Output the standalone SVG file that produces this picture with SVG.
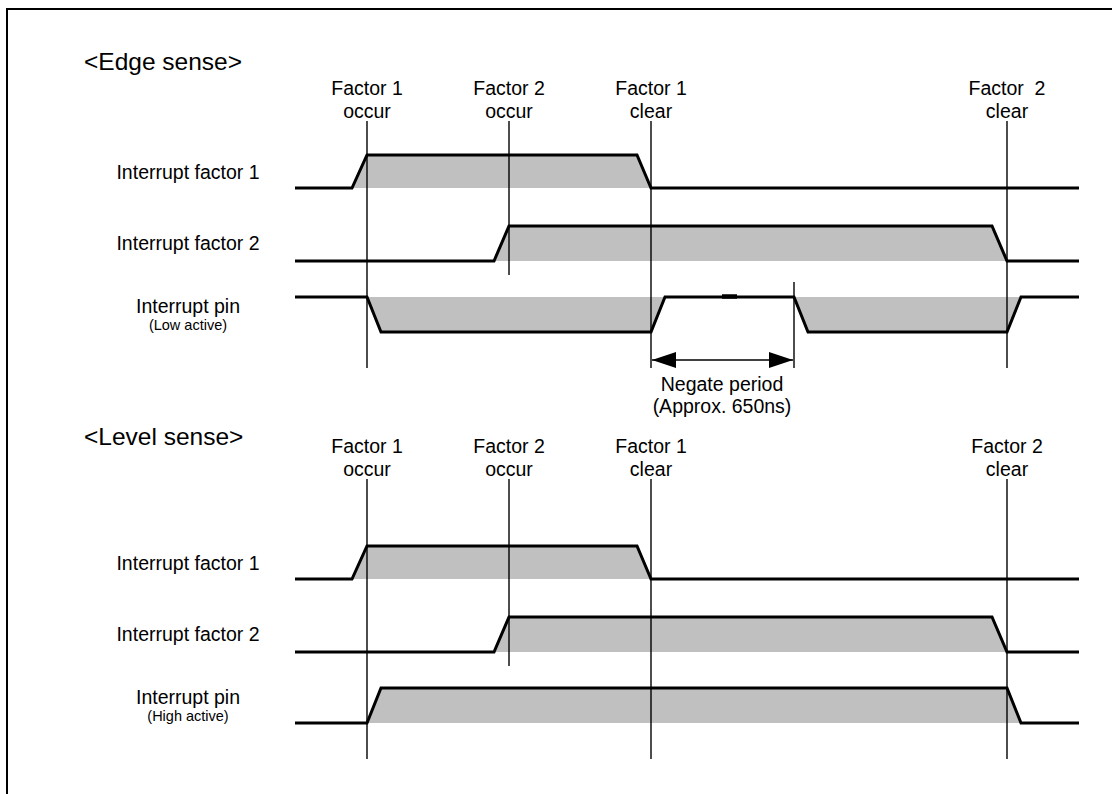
<svg xmlns="http://www.w3.org/2000/svg" width="1112" height="794" viewBox="0 0 1112 794">
<style>
text{font-family:"Liberation Sans",Arial,sans-serif;fill:#000}
.h{font-size:24.5px}
.l{font-size:19.5px;text-anchor:middle;white-space:pre}
.s{font-size:14.5px;text-anchor:middle}
.w{fill:none;stroke:#000;stroke-width:3;stroke-linejoin:miter}
.g{fill:#c0c0c0;stroke:none}
.v{stroke:#000;stroke-width:1.4}
</style>
<defs>
<marker id="ah" markerWidth="24" markerHeight="16" refX="24" refY="8" orient="auto-start-reverse" markerUnits="userSpaceOnUse">
<path d="M0,0 L24,8 L0,16 Z" fill="#000"/>
</marker>
</defs>
<rect x="7" y="9" width="1200" height="900" fill="#fff" stroke="#000" stroke-width="2"/>

<g id="edge">
<text class="h" x="84" y="70">&lt;Edge sense&gt;</text>
<g id="edge-labels">
<text class="l" x="367" y="95">Factor 1</text><text class="l" x="367" y="118">occur</text>
<text class="l" x="509" y="95">Factor 2</text><text class="l" x="509" y="118">occur</text>
<text class="l" x="651" y="95">Factor 1</text><text class="l" x="651" y="118">clear</text>
<text class="l" x="1007" y="95">Factor  2</text><text class="l" x="1007" y="118">clear</text>
<text class="l" x="188" y="179">Interrupt factor 1</text>
<text class="l" x="188" y="250">Interrupt factor 2</text>
<text class="l" x="188" y="313">Interrupt pin</text>
<text class="s" x="188" y="330">(Low active)</text>
</g>
<g id="edge-f1">
<polygon class="g" points="352,188 367,155 637,155 651,188"/>
<polyline class="w" points="295,188 352,188 367,155 637,155 651,188 1079,188"/>
</g>
<g id="edge-f2">
<polygon class="g" points="494,261 509,226 992,226 1007,261"/>
<polyline class="w" points="295,261 494,261 509,226 992,226 1007,261 1079,261"/>
</g>
<g id="edge-pin">
<polygon class="g" points="367,297 381,332 651,332 665,297"/>
<polygon class="g" points="794,297 808,332 1007,332 1021,297"/>
<polyline class="w" points="295,297 367,297 381,332 651,332 665,297 794,297 808,332 1007,332 1021,297 1079,297"/>
<line x1="722" y1="296.5" x2="737" y2="296.5" stroke="#000" stroke-width="4.5"/>
</g>
</g>

<g id="level">
<text class="h" x="84" y="445">&lt;Level sense&gt;</text>
<g id="level-labels">
<text class="l" x="367" y="453">Factor 1</text><text class="l" x="367" y="476">occur</text>
<text class="l" x="509" y="453">Factor 2</text><text class="l" x="509" y="476">occur</text>
<text class="l" x="651" y="453">Factor 1</text><text class="l" x="651" y="476">clear</text>
<text class="l" x="1007" y="453">Factor 2</text><text class="l" x="1007" y="476">clear</text>
<text class="l" x="188" y="570">Interrupt factor 1</text>
<text class="l" x="188" y="641">Interrupt factor 2</text>
<text class="l" x="188" y="704">Interrupt pin</text>
<text class="s" x="188" y="721">(High active)</text>
</g>
<g id="level-f1">
<polygon class="g" points="352,579 367,546 637,546 651,579"/>
<polyline class="w" points="295,579 352,579 367,546 637,546 651,579 1079,579"/>
</g>
<g id="level-f2">
<polygon class="g" points="494,652 509,617 992,617 1007,652"/>
<polyline class="w" points="295,652 494,652 509,617 992,617 1007,652 1079,652"/>
</g>
<g id="level-pin">
<polygon class="g" points="367,723 381,688 1007,688 1021,723"/>
<polyline class="w" points="295,723 367,723 381,688 1007,688 1021,723 1079,723"/>
</g>
</g>

<g id="connectors">
<line class="v" x1="367" y1="121" x2="367" y2="368"/>
<line class="v" x1="509" y1="121" x2="509" y2="275"/>
<line class="v" x1="651" y1="121" x2="651" y2="368"/>
<line class="v" x1="1007" y1="121" x2="1007" y2="368"/>
<line class="v" x1="794" y1="282" x2="794" y2="368"/>
<line class="v" x1="652" y1="360" x2="793" y2="360" marker-start="url(#ah)" marker-end="url(#ah)"/>
<line class="v" x1="367" y1="479" x2="367" y2="759"/>
<line class="v" x1="509" y1="479" x2="509" y2="666"/>
<line class="v" x1="651" y1="479" x2="651" y2="759"/>
<line class="v" x1="1007" y1="479" x2="1007" y2="759"/>
</g>
<text class="l" x="722" y="391">Negate period</text>
<text class="l" x="722" y="413">(Approx. 650ns)</text>
</svg>
